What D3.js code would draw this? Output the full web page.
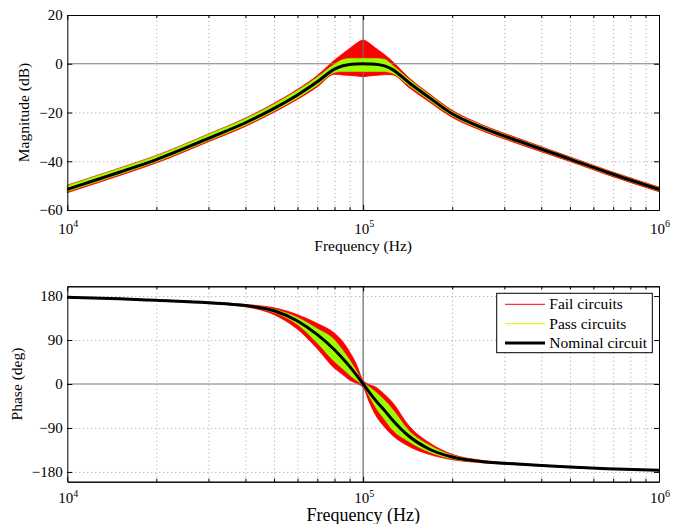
<!DOCTYPE html>
<html>
<head>
<meta charset="utf-8">
<script src="https://cdn.jsdelivr.net/npm/d3@7"></script>
<style>
  body { margin: 0; background: #fff; }
  svg, svg text { font-family: "Times New Roman", "Liberation Serif", "Nimbus Roman", "DejaVu Serif", serif; }
</style>
</head>
<body>
<svg width="681" height="524"></svg>
<script>
const freqs = [1e4, 1.5e4, 2e4, 3e4, 4e4, 5e4, 6e4, 7e4, 8e4, 8.5e4, 9e4, 9.5e4, 1e5,
  1.05e5, 1.1e5, 1.18e5, 1.25e5, 1.43e5, 1.67e5, 2e5, 2.5e5, 3.33e5, 5e5, 6.67e5, 1e6];

// magnitude (dB)
const magNominal = [-51.5, -44.5, -39.3, -30.6, -24.2, -18.3, -12.8, -7.4, -2.2, -0.9, -0.3, -0.1, 0,
  -0.1, -0.2, -0.9, -2.2, -7.8, -13.8, -20.5, -26.0, -31.6, -39.1, -44.5, -51.5];
const magPassLo = [-52.4, -45.4, -40.2, -31.5, -25.2, -19.4, -14.0, -8.8, -3.6, -3.2, -3.2, -3.2, -3.2,
  -3.2, -3.2, -3.2, -3.8, -9.0, -14.9, -21.4, -26.8, -32.3, -39.7, -45.1, -52.1];
const magPassHi = [-50.0, -43.0, -37.8, -29.0, -22.6, -16.6, -11.0, -5.5, -0.2, 1.6, 2.2, 2.2, 2.2,
  2.2, 2.2, 1.8, -0.4, -6.5, -12.7, -19.6, -25.2, -30.9, -38.5, -43.9, -50.9];
const magFailLo = [-52.9, -45.9, -40.7, -32.0, -25.7, -19.9, -14.6, -9.5, -4.3, -4.6, -4.8, -5.0, -5.3,
  -5.0, -4.8, -4.5, -4.5, -9.8, -15.6, -22.0, -27.3, -32.8, -40.1, -45.5, -52.5];
const magFailHi = [-49.8, -42.8, -37.6, -28.8, -22.3, -16.2, -10.5, -4.8, 1.5, 4.0, 6.3, 8.4, 9.7,
  8.4, 6.5, 3.8, 1.2, -5.8, -12.2, -19.1, -24.8, -30.5, -38.2, -43.6, -50.6];

// phase (deg)
const phaseNominal = [177.4, 174.5, 171.3, 166.5, 160.5, 150, 129, 101, 70, 53, 36, 18, 0,
  -17, -33, -54, -72, -107, -133, -149.5, -158.5, -164, -170, -173.3, -176.5];
const phasePassLo = [177.1, 174.1, 170.8, 165.7, 159.0, 146.5, 122, 84, 46, 32, 18.5, 7, -3,
  -25, -47, -72, -92, -118, -139, -153, -160, -164.8, -170.5, -173.7, -176.8];
const phasePassHi = [177.7, 174.9, 171.8, 167.2, 161.8, 153, 136, 113, 90, 70, 49, 26, 3,
  -6, -16, -33, -50, -96, -125, -146, -157, -163.2, -169.5, -172.9, -176.2];
const phaseFailLo = [176.9, 173.8, 170.4, 165.0, 158.0, 142, 112, 72, 32, 20, 8, 1, -7,
  -38, -63, -88, -104, -128, -144, -155, -161, -165.4, -170.9, -174.0, -177.0];
const phaseFailHi = [177.9, 175.2, 172.1, 167.8, 162.8, 156, 142, 124, 104, 88, 66, 40, 7,
  -1, -6, -21, -36, -86, -120, -144, -156, -162.6, -169.1, -172.6, -176.0];

const magTicks = [-60, -40, -20, 0, 20];
const phaseTicks = [-180, -90, 0, 90, 180];
const decadeTicks = [1e4, 1e5, 1e6];
const legendLabels = ["Fail circuits", "Pass circuits", "Nominal circuit"];

const serif = '"Times New Roman", "Liberation Serif", "Nimbus Roman", "DejaVu Serif", serif';
const svg = d3.select("svg").attr("font-family", serif);
const failColor = "#ff0000",
  passColor = "#99ff00",
  nomColor = "#000000";

const x = d3.scaleLog().domain([1e4, 1e6]).range([67.3, 659]);
// minor positions 2..9 of each decade
const minorTicks = [];
[1e4, 1e5].forEach((d) => {
  for (let k = 2; k <= 9; k++) minorTicks.push(d * k);
});

function drawPanel(p) {
  const y = d3.scaleLinear().domain(p.domain).range([p.bottom, p.top]);
  const g = svg.append("g");
  const h = p.bottom - p.top;

  // dotted grid
  g.append("g")
    .attr("transform", `translate(0,${p.bottom})`)
    .call(d3.axisBottom(x).tickValues(minorTicks).tickSize(-h).tickFormat(""))
    .call((a) => a.select(".domain").remove())
    .selectAll("line")
    .attr("stroke", "#a0a0a0")
    .attr("stroke-dasharray", "1,3");
  g.append("g")
    .attr("transform", `translate(${x.range()[0]},0)`)
    .call(d3.axisRight(y).tickValues(p.ticks.filter((t) => t !== 0)).tickSize(x.range()[1] - x.range()[0]).tickFormat(""))
    .call((a) => a.select(".domain").remove())
    .selectAll("line")
    .attr("stroke", "#a0a0a0")
    .attr("stroke-dasharray", "1,3");

  const idx = d3.range(freqs.length);
  const band = (lo, hi) =>
    d3.area()
      .x((i) => x(freqs[i]))
      .y0((i) => y(lo[i]))
      .y1((i) => y(hi[i]))
      .curve(d3.curveMonotoneX)(idx);

  g.append("path").attr("d", band(p.failLo, p.failHi)).attr("fill", failColor)
    .attr("stroke", failColor).attr("stroke-width", 0.8);

  // solid reference lines at 0 and 10^5
  g.append("line")
    .attr("x1", x.range()[0]).attr("x2", x.range()[1])
    .attr("y1", y(0)).attr("y2", y(0))
    .attr("stroke", "#7a7a7a").attr("stroke-width", 1.2);
  g.append("line")
    .attr("x1", x(1e5)).attr("x2", x(1e5))
    .attr("y1", p.top).attr("y2", p.bottom)
    .attr("stroke", "#6a6a6a").attr("stroke-width", 1.2);

  g.append("path").attr("d", band(p.passLo, p.passHi)).attr("fill", passColor)
    .attr("stroke", passColor).attr("stroke-width", 0.6);

  g.append("path")
    .datum(idx)
    .attr("fill", "none")
    .attr("stroke", nomColor)
    .attr("stroke-width", 3)
    .attr("d", d3.line().x((i) => x(freqs[i])).y((i) => y(p.nominal[i])).curve(d3.curveMonotoneX));

  // box + ticks (inward on all sides)
  const axes = g.append("g");
  axes.append("g").attr("transform", `translate(${x.range()[0]},0)`)
    .call(d3.axisLeft(y).tickValues(p.ticks).tickSize(-5).tickPadding(4.5).tickSizeOuter(0));
  axes.append("g").attr("transform", `translate(${x.range()[1]},0)`)
    .call(d3.axisRight(y).tickValues(p.ticks).tickSize(-5).tickFormat("").tickSizeOuter(0));
  axes.append("g").attr("transform", `translate(0,${p.bottom})`)
    .call(d3.axisBottom(x).tickValues(minorTicks).tickSize(-3).tickFormat("").tickSizeOuter(0));
  axes.append("g").attr("transform", `translate(0,${p.bottom})`)
    .call(d3.axisBottom(x).tickValues(decadeTicks).tickSize(-5).tickFormat("").tickSizeOuter(0));
  axes.append("g").attr("transform", `translate(0,${p.top})`)
    .call(d3.axisTop(x).tickValues(minorTicks).tickSize(-3).tickFormat("").tickSizeOuter(0));
  axes.append("g").attr("transform", `translate(0,${p.top})`)
    .call(d3.axisTop(x).tickValues(decadeTicks).tickSize(-5).tickFormat("").tickSizeOuter(0));
  axes.selectAll("g").attr("font-family", serif).attr("font-size", 15);
  axes.selectAll("text").attr("fill", "#000");

  // x tick labels 10^n
  const xl = g.selectAll(".xlab")
    .data(decadeTicks)
    .enter()
    .append("text")
    .attr("class", "xlab")
    .attr("x", (d) => x(d) + 1)
    .attr("y", p.bottom + p.xTickOffset)
    .attr("text-anchor", "middle")
    .attr("font-size", 15);
  xl.append("tspan").text("10");
  xl.append("tspan")
    .attr("dy", -6.5)
    .attr("font-size", 10)
    .text((d) => Math.round(Math.log10(d)));

  g.append("text")
    .attr("x", (x.range()[0] + x.range()[1]) / 2)
    .attr("y", p.bottom + p.xLabelOffset)
    .attr("text-anchor", "middle")
    .attr("font-size", p.xLabelSize)
    .text("Frequency (Hz)");

  g.append("text")
    .attr("transform", `translate(${p.yLabelX},${(p.top + p.bottom) / 2}) rotate(-90)`)
    .attr("text-anchor", "middle")
    .attr("font-size", 15.5)
    .text(p.yLabel);

  return y;
}

drawPanel({
  top: 15, bottom: 210, domain: [-60, 20], ticks: magTicks,
  nominal: magNominal, passLo: magPassLo, passHi: magPassHi, failLo: magFailLo, failHi: magFailHi,
  yLabel: "Magnitude (dB)", yLabelX: 29, xTickOffset: 23.5, xLabelOffset: 40.5, xLabelSize: 15.5,
});

drawPanel({
  top: 286.3, bottom: 481.7, domain: [-200, 200], ticks: phaseTicks,
  nominal: phaseNominal, passLo: phasePassLo, passHi: phasePassHi, failLo: phaseFailLo, failHi: phaseFailHi,
  yLabel: "Phase (deg)", yLabelX: 22, xTickOffset: 21.5, xLabelOffset: 39.5, xLabelSize: 18,
});

// legend
const legend = svg.append("g").attr("transform", "translate(496.7,293.3)");
legend.append("rect")
  .attr("width", 155.6)
  .attr("height", 59.4)
  .attr("fill", "#fff")
  .attr("stroke", "#000");
const legendColors = [failColor, passColor, nomColor];
const legendWidths = [1, 1, 3];
const items = legend.selectAll(".legend-item")
  .data(legendLabels)
  .enter()
  .append("g")
  .attr("class", "legend-item")
  .attr("transform", (d, i) => `translate(0,${11 + i * 19.4})`);
items.append("line")
  .attr("x1", 8.3).attr("x2", 48.3)
  .attr("stroke", (d, i) => (i < 2 ? d3.color(legendColors[i]).brighter(0.6) : legendColors[i]))
  .attr("stroke-width", (d, i) => legendWidths[i]);
items.append("text")
  .attr("x", 52.6)
  .attr("dy", "0.33em")
  .attr("font-size", 15.5)
  .text((d) => d);
</script>
</body>
</html>
